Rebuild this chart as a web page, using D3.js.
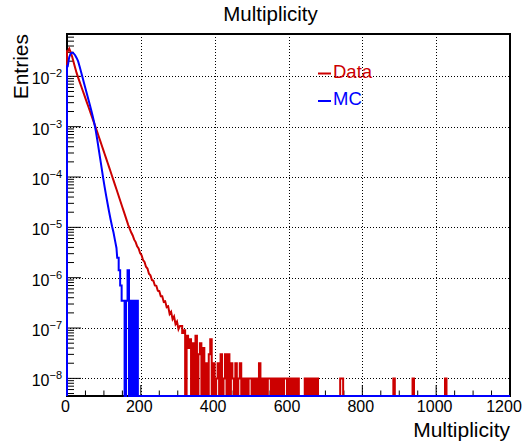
<!DOCTYPE html>
<html lang="en">
<head>
<meta charset="utf-8">
<title>Multiplicity</title>
<script src="https://cdn.jsdelivr.net/npm/d3@7"></script>
<style>
  body { margin: 0; background: #fff; }
  text { font-family: "Liberation Sans", Arial, Helvetica, sans-serif; fill: #000; }
  .grid line { stroke: #000; stroke-width: 1; stroke-dasharray: 1,2; }
</style>
</head>
<body>
<div id="chart"></div>
<script>
// histogram bins are 4 units wide
var binWidth = 4;
var nBins = 300;

// Data: smooth part, bins 0..304
var dataVals = [
  0.0316, 0.0355, 0.0300, 0.0245, 0.0190, 0.0148, 0.0117, 0.00953, 0.00787, 0.00649,
  0.00535, 0.00442, 0.00365, 0.00301, 0.00249, 0.00205, 0.00169, 0.00140, 0.00115, 9.51e-4,
  7.78e-4, 6.37e-4, 5.21e-4, 4.27e-4, 3.49e-4, 2.86e-4, 2.34e-4, 1.92e-4, 1.57e-4, 1.29e-4,
  1.05e-4, 8.57e-5, 6.98e-5, 5.70e-5, 4.64e-5, 3.79e-5, 3.08e-5, 2.51e-5, 2.05e-5, 1.67e-5,
  1.36e-5, 1.11e-5, 9.3e-6, 7.9e-6, 6.9e-6, 5.7e-6, 5.1e-6, 4.2e-6, 3.8e-6, 3.1e-6,
  2.8e-6, 2.25e-6, 2.05e-6, 1.65e-6, 1.52e-6, 1.2e-6, 1.12e-6, 9.0e-7, 8.7e-7, 7.0e-7,
  6.9e-7, 5.5e-7, 5.4e-7, 4.3e-7, 4.3e-7, 3.3e-7, 3.4e-7, 2.6e-7, 2.7e-7, 1.9e-7,
  2.1e-7, 1.5e-7, 1.7e-7, 1.2e-7, 1.35e-7, 9.5e-8, 1.1e-7
];
// Data: tail in event counts, bins 308..680
var dataCountStart = 308;
var dataCounts = [
  11, 8, 9, 0, 7, 4, 6, 0, 5, 0,
  7, 0, 3, 5, 0, 4, 0, 2, 0, 3,
  6, 0, 2, 0, 1, 2, 0, 3, 0, 1,
  3, 0, 3, 0, 2, 1, 0, 2, 0, 1,
  2, 0, 1, 0, 1, 0, 1, 1, 0, 1,
  0, 1, 0, 2, 0, 1, 0, 1, 0, 1,
  1, 0, 1, 0, 1, 0, 1, 0, 1, 0,
  1, 1, 0, 1, 0, 1, 0, 1, 0, 1,
  0, 0, 0, 0, 1, 0, 1, 0, 1, 0,
  1, 0, 1, 0
];
var dataEvent = 1e-8;
// single-event bins far out in the tail
var dataSpikes = [740, 744, 884, 936, 1024];

// MC, bins 0..188 (first 34 bins smooth, then single events)
var mcVals = [
  0.0158, 0.0240, 0.0285, 0.0295, 0.0285, 0.0263, 0.0232, 0.0200, 0.0158, 0.0123,
  0.00955, 0.00741, 0.00575, 0.00447, 0.00347, 0.00269, 0.00207, 0.00158, 0.00117, 8.3e-4,
  5.5e-4, 3.55e-4, 2.29e-4, 1.48e-4, 9.5e-5, 6.3e-5, 4.27e-5, 2.95e-5, 2.04e-5, 1.45e-5,
  1.05e-5, 7.9e-6, 5.5e-6, 3.9e-6, 2.5e-6, 1.4e-6, 7e-7,
  3.5e-7, 3.5e-7, 0, 3.5e-7, 1.4e-6, 0, 3.5e-7, 0, 3.5e-7, 0, 3.5e-7
];
var mcSmoothBins = 34;

var xTicks = [0, 200, 400, 600, 800, 1000, 1200];
var yDecades = [-8, -7, -6, -5, -4, -3, -2];
var legendNames = ["Data", "MC"];
var colors = ["#cc0000", "#0000ff"];

var W = 526, H = 444;
var L = 67, R = 510, T = 34, B = 396;

var svg = d3.select("#chart").append("svg")
  .attr("width", W).attr("height", H);

var x = d3.scaleLinear().domain([0, 1200]).range([L, R]);
var y = d3.scaleLog().domain([Math.pow(10, -8.35), Math.pow(10, -1.159)]).range([B, T]);
var yMin = y.domain()[0];

// fill the per-bin arrays
var dataBins = new Array(nBins).fill(0);
var mcBins = new Array(nBins).fill(0);
dataVals.forEach(function(v, i) { dataBins[i] = v; });
dataCounts.forEach(function(c, i) { dataBins[dataCountStart / binWidth + i] = c * dataEvent; });
dataSpikes.forEach(function(s) { dataBins[s / binWidth] = dataEvent; });
mcVals.forEach(function(v, i) { mcBins[i] = v; });

// grid
var grid = svg.append("g").attr("class", "grid");
grid.selectAll(".gx").data(xTicks.filter(function(d) { return d > 0 && d < 1200; }))
  .enter().append("line")
  .attr("x1", function(d) { return Math.round(x(d)) + 0.5; })
  .attr("x2", function(d) { return Math.round(x(d)) + 0.5; })
  .attr("y1", T).attr("y2", B);
grid.selectAll(".gy").data(yDecades)
  .enter().append("line")
  .attr("x1", L).attr("x2", R)
  .attr("y1", function(d) { return Math.round(y(Math.pow(10, d))) + 0.5; })
  .attr("y2", function(d) { return Math.round(y(Math.pow(10, d))) + 0.5; });

// frame
svg.append("rect")
  .attr("x", L).attr("y", T).attr("width", R - L).attr("height", B - T)
  .attr("fill", "none").attr("stroke", "#000").attr("stroke-width", 2);

// ticks (inside the frame, ROOT style)
var xMinor = x.ticks(24);
svg.append("g").selectAll("line").data(xMinor).enter().append("line")
  .attr("x1", function(d) { return x(d); })
  .attr("x2", function(d) { return x(d); })
  .attr("y1", B)
  .attr("y2", function(d) { return d % 200 === 0 ? B - 11 : B - 5.5; })
  .attr("stroke", "#000").attr("stroke-width", 1);

var yAll = y.ticks().filter(function(d) { return d >= yMin && d <= y.domain()[1]; });
svg.append("g").selectAll("line").data(yAll).enter().append("line")
  .attr("x1", L)
  .attr("x2", function(d) {
    var lg = Math.log10(d);
    return Math.abs(lg - Math.round(lg)) < 1e-6 ? L + 14 : L + 7;
  })
  .attr("y1", function(d) { return y(d); })
  .attr("y2", function(d) { return y(d); })
  .attr("stroke", "#000").attr("stroke-width", 1);

// histograms
svg.append("clipPath").attr("id", "frameClip").append("rect")
  .attr("x", L - 1).attr("y", T).attr("width", R - L + 2).attr("height", B - T + 1.5);

// smooth bins go through their centres, sparse bins are drawn as steps
function histPoints(bins, nSmooth) {
  var pts = [[0, 0], [0, bins[0]]];
  bins.forEach(function(v, i) {
    var x0 = i * binWidth;
    if (i < nSmooth) {
      pts.push([x0 + binWidth / 2, v]);
    } else {
      pts.push([x0, v]);
      pts.push([x0 + binWidth, v]);
    }
  });
  pts.push([nBins * binWidth, 0]);
  return pts;
}
var line = d3.line()
  .x(function(d) { return x(d[0]); })
  .y(function(d) { return d[1] > yMin ? y(d[1]) : B; });

var hists = svg.append("g").attr("clip-path", "url(#frameClip)");
[[dataBins, dataVals.length], [mcBins, mcSmoothBins]].forEach(function(h, k) {
  hists.append("path")
    .attr("d", line(histPoints(h[0], h[1])))
    .attr("fill", "none")
    .attr("stroke", colors[k])
    .attr("stroke-width", 2);
});

// x labels
svg.append("g").selectAll("text").data(xTicks).enter().append("text")
  .attr("x", function(d) { return d === 1200 ? 504 : x(d) - 1.5; })
  .attr("y", 411.5)
  .attr("text-anchor", "middle")
  .style("font-size", "16px")
  .text(function(d) { return d; });

// y labels 10^k
var yl = svg.append("g").selectAll("text").data(yDecades).enter().append("text")
  .attr("x", 62)
  .attr("y", function(d) { return y(Math.pow(10, d)) + 8; })
  .attr("text-anchor", "end")
  .style("font-size", "16px");
yl.append("tspan").text("10");
yl.append("tspan").attr("dy", -7).style("font-size", "11px")
  .text(function(d) { return "\u2212" + Math.abs(d); });

// titles
svg.append("text").attr("x", 270.5).attr("y", 21)
  .attr("text-anchor", "middle").style("font-size", "20.5px").text("Multiplicity");
svg.append("text").attr("x", R).attr("y", 437)
  .attr("text-anchor", "end").style("font-size", "21px").text("Multiplicity");
svg.append("text").attr("transform", "translate(28," + T + ") rotate(-90)")
  .attr("text-anchor", "end").style("font-size", "21px").text("Entries");

// legend
var leg = svg.append("g").selectAll("g").data(legendNames).enter().append("g")
  .attr("transform", function(d, i) { return "translate(318," + (73.5 + i * 27.5) + ")"; });
leg.append("line").attr("x1", 0).attr("x2", 13).attr("y1", 0).attr("y2", 0)
  .attr("stroke", function(d, i) { return colors[i]; }).attr("stroke-width", 2);
leg.append("text").attr("x", 15).attr("y", 4)
  .style("font-size", "18.5px")
  .style("fill", function(d, i) { return colors[i]; })
  .text(function(d) { return d; });
</script>
</body>
</html>
